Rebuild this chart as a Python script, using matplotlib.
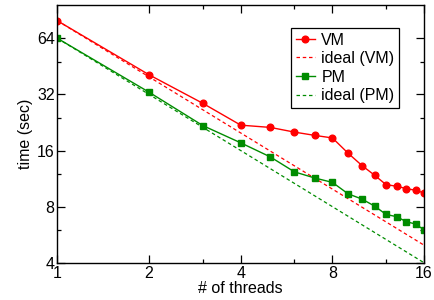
import matplotlib
matplotlib.use("Agg")
import matplotlib.pyplot as plt
from matplotlib.ticker import FixedLocator, FixedFormatter, NullFormatter

plt.rcParams['font.family'] = ['Liberation Sans', 'DejaVu Sans']

threads = [1, 2, 3, 4, 5, 6, 7, 8, 9, 10, 11, 12, 13, 14, 15, 16]
vm_time = [79.5, 40.8, 28.7, 21.9, 21.3, 20.1, 19.3, 18.7, 15.5, 13.3, 11.8, 10.5, 10.3, 10.0, 9.8, 9.47]
pm_time = [64.0, 32.9, 21.8, 17.6, 14.8, 12.3, 11.4, 10.8, 9.38, 8.79, 8.06, 7.27, 7.07, 6.64, 6.46, 6.0]
ideal_threads = [1, 16]
ideal_vm = [79.5, 4.97]
ideal_pm = [64.0, 4.0]

x_major = [1, 2, 4, 8, 16]
x_minor = [3, 6, 12]
y_major = [4, 8, 16, 32, 64]
y_minor = [6, 12, 24, 48]

fig = plt.figure(figsize=(4.35, 3.0), dpi=100)
ax = fig.add_axes([0.132, 0.124, 0.843, 0.859])

red = '#ff0000'
green = '#008c00'
dash = (0, (2.8, 2.2))
ax.plot(threads, vm_time, color=red, lw=1.0, marker='o', ms=4.8, label='VM')
ax.plot(ideal_threads, ideal_vm, color=red, lw=0.9, ls=dash, label='ideal (VM)')
ax.plot(threads, pm_time, color=green, lw=1.0, marker='s', ms=4.0, label='PM')
ax.plot(ideal_threads, ideal_pm, color=green, lw=0.9, ls=dash, label='ideal (PM)')

ax.set_xscale('log', base=2)
ax.set_yscale('log', base=2)
ax.set_xlim(1, 16)
ax.set_ylim(4, 96.5)

ax.xaxis.set_major_locator(FixedLocator(x_major))
ax.xaxis.set_major_formatter(FixedFormatter([str(v) for v in x_major]))
ax.xaxis.set_minor_locator(FixedLocator(x_minor))
ax.xaxis.set_minor_formatter(NullFormatter())
ax.yaxis.set_major_locator(FixedLocator(y_major))
ax.yaxis.set_major_formatter(FixedFormatter([str(v) for v in y_major]))
ax.yaxis.set_minor_locator(FixedLocator(y_minor))
ax.yaxis.set_minor_formatter(NullFormatter())

ax.tick_params(which='both', direction='in', top=True, right=True, labelsize=11.5, width=0.9)
ax.tick_params(which='major', length=6, pad=2)
ax.tick_params(which='minor', length=3)
for s in ax.spines.values():
    s.set_linewidth(1.0)

ax.set_xlabel('# of threads', fontsize=11.5, labelpad=0)
ax.set_ylabel('time (sec)', fontsize=11.5, labelpad=3)

leg = ax.legend(loc='upper right', bbox_to_anchor=(0.932, 0.912), fontsize=11.5,
                frameon=True, fancybox=False, edgecolor='black', framealpha=1,
                handlelength=1.2, handletextpad=0.4, borderpad=0.3, labelspacing=0.22,
                borderaxespad=0)
leg.get_frame().set_linewidth(0.9)

fig.savefig('out.png', dpi=100)
